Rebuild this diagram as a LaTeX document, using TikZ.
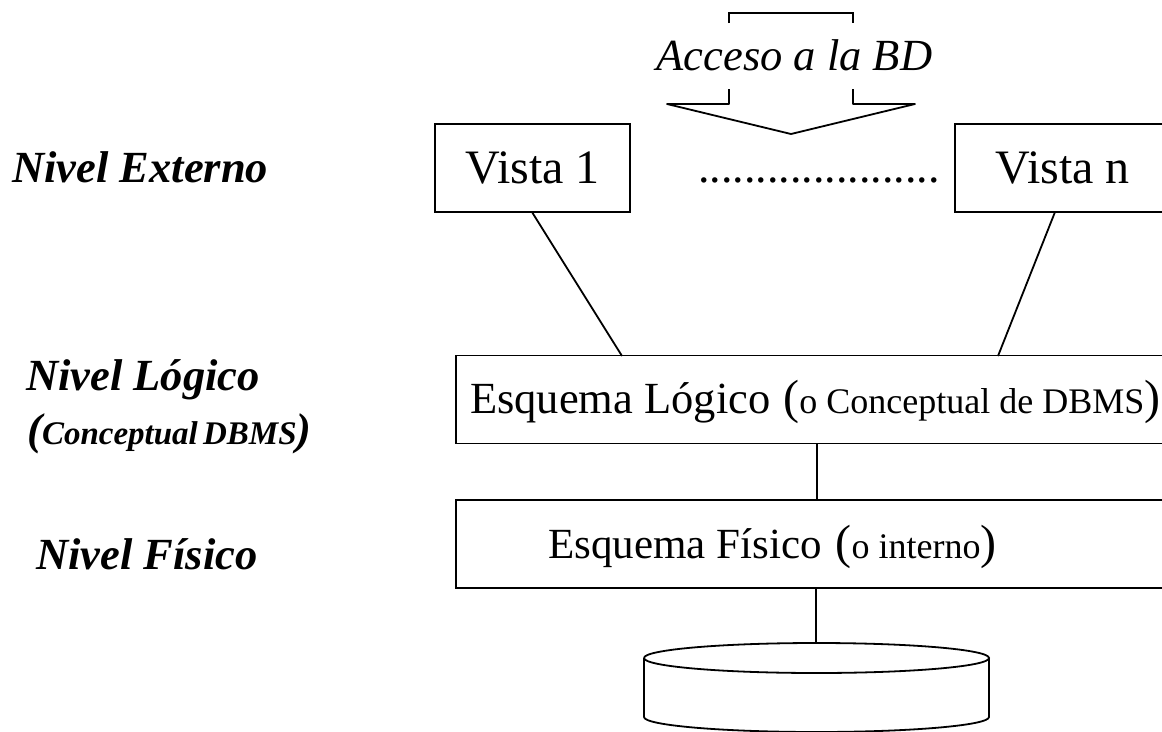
\documentclass[tikz,border=0pt]{standalone}
\usepackage{fontspec}
\setmainfont{Liberation Serif}
\usetikzlibrary{positioning}
\newcommand{\bigtxt}{\fontsize{48}{50}\selectfont}
\newcommand{\smalltxt}{\fontsize{36}{40}\selectfont}
\tikzset{
    block/.style = {draw, rectangle, line width=1.8pt, inner sep=0pt,
        minimum height=88pt, font=\bigtxt},
    nivel/.style = {anchor=base west, inner sep=0pt,
        font=\fontsize{44.5}{50}\selectfont\bfseries\itshape},
    plain/.style = {anchor=base west, inner sep=0pt, font=\bigtxt},
    conn/.style = {line width=1.8pt},
}

\begin{document}
\begin{tikzpicture}[x=1pt, y=-1pt]
	\useasboundingbox (0,0) rectangle (1162,731);

	% level names
	\node [nivel, name=nivExt] at (12,182) {Nivel Externo};
	\node [nivel, name=nivLog] at (26,390) {Nivel Lógico};
	\node [nivel, name=nivCon] at (27,444) {(\fontsize{33}{36}\selectfont Conceptual\hspace{-3pt} DBMS\fontsize{44.5}{50}\selectfont)};
	\node [nivel, name=nivFis] at (36,569) {Nivel Físico};

	% views
	\node [block, minimum width=195pt, name=vista1] at (532.5,168) {Vista 1};
	\node [block, minimum width=215pt, right=323.2pt of vista1, name=vistan] {Vista n};
	\node [plain, anchor=base, font=\fontsize{46}{50}\selectfont, name=puntos] at (819,182) {.....................};

	% schemas
	\node [block, minimum width=714pt, name=logico] at (813,399.5) {};
	\node [block, minimum width=714pt, below=54.5pt of logico, name=fisico] {};
	\node [plain, name=logicoTxt] at (470,413) {\fontsize{44.5}{50}\selectfont Esquema Lógico\hspace{13pt}\bigtxt(\smalltxt o Conceptual de DBMS\bigtxt)};
	\node [plain, name=fisicoTxt] at (548,558) {\fontsize{43}{50}\selectfont Esquema Físico\hspace{14pt}\bigtxt(\smalltxt o interno\bigtxt)};

	% access arrow
	\node [plain, anchor=base, font=\fontsize{44.5}{50}\selectfont\itshape, name=acceso] at (794.5,70) {Acceso a la BD};
	\draw [conn] (729,23) -- (729,13) -- (853,13) -- (853,23);
	\draw [conn, line join=round] (729,89) -- (729,104) -- (667,104) -- (791,134) -- (915,104) -- (853,104) -- (853,89);

	% disk
	\coordinate (discoTop) at (816,643);
	\draw [conn] (644,658) arc [start angle=180, end angle=-180, x radius=172.5pt, y radius=15pt];
	\draw [conn] (644,658) -- (644,717) arc [start angle=180, end angle=0, x radius=172.5pt, y radius=-15pt] -- (989,658);

	%%lines
	\coordinate (logicoIn1) at (622,356);
	\coordinate (logicoInn) at (998,356);
	\coordinate (vistanOut) at (1055,212);
	\coordinate (logicoOut) at (817,443);
	\coordinate (fisicoIn) at (817,500);
	\coordinate (fisicoOut) at (816,588);
	\draw [conn] (vista1.south) -- (logicoIn1);
	\draw [conn] (vistanOut) -- (logicoInn);
	\draw [conn] (logicoOut) -- (fisicoIn);
	\draw [conn] (fisicoOut) -- (discoTop);
\end{tikzpicture}
\end{document}
